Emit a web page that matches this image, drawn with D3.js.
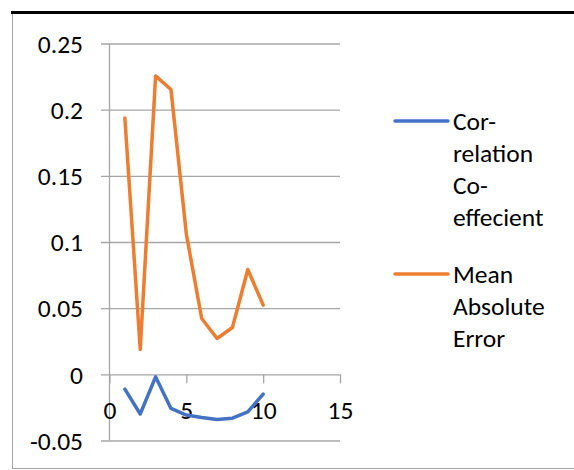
<!DOCTYPE html>
<html><head><meta charset="utf-8">
<script src="https://cdn.jsdelivr.net/npm/d3@7"></script>
<style>
html,body{margin:0;padding:0;background:#fff;}
svg{display:block;}
text{font-family:Carlito,Calibri,Lato,sans-serif;fill:#000;}
</style></head>
<body>
<svg id="chart" width="574" height="470"></svg>
<script>
const xValues = [1,2,3,4,5,6,7,8,9,10];
const correlation = [-0.0112,-0.0300,-0.0019,-0.0258,-0.0308,-0.0326,-0.0341,-0.0331,-0.0283,-0.0150];
const mae = [0.1937,0.0188,0.2255,0.2152,0.1060,0.0422,0.0271,0.0354,0.0792,0.0523];
const xTicks = [0,5,10,15];
const yTicks = [-0.05,0,0.05,0.1,0.15,0.2,0.25];
const yTickLabels = ["-0.05","0","0.05","0.1","0.15","0.2","0.25"];
const seriesNames = [["Cor-","relation","Co-","effecient"],["Mean","Absolute","Error"]];
const colors = ["#4472C4","#ED7D31"];

const svg = d3.select("#chart");
const FS = 25.5;

// outer frame
svg.append("rect").attr("x",12.5).attr("y",13).attr("width",600).attr("height",455.5)
  .attr("fill","none").attr("stroke","#a6a6a6").attr("stroke-width",1);
svg.append("line").attr("x1",11).attr("x2",574).attr("y1",12.5).attr("y2",12.5)
  .attr("stroke","#000").attr("stroke-width",3);

const x = d3.scaleLinear().domain([0,15]).range([109.5,340]);
const y = d3.scaleLinear().domain([-0.05,0.25]).range([440.5,43.5]);

// gridlines (with left tick extension)
const yAxis = d3.axisLeft(y).tickValues(yTicks).tickSize(-(340-101)).tickPadding(0)
  .tickFormat((d,i) => yTickLabels[i]);
const gy = svg.append("g").attr("transform","translate(340,0)").call(yAxis);
gy.select(".domain").remove();
gy.selectAll(".tick line").attr("stroke","#a6a6a6").attr("stroke-width",1.3).attr("x1",-(340-101)).attr("x2",0);
gy.selectAll(".tick text").attr("x",-(340-83)).attr("dy","0.34em").attr("text-anchor","end")
  .style("font-size",FS+"px").attr("fill","#000");

// vertical axis line
svg.append("line").attr("x1",x(0)).attr("x2",x(0)).attr("y1",y(0.25)).attr("y2",y(-0.05))
  .attr("stroke","#a6a6a6").attr("stroke-width",1.3);

// x axis at y=0
const xAxis = d3.axisBottom(x).tickValues(xTicks).tickSize(9).tickPadding(4).tickFormat(d3.format("d"));
const gx = svg.append("g").attr("transform",`translate(0,${y(0)})`).call(xAxis);
gx.select(".domain").remove();
gx.selectAll(".tick line").attr("stroke","#a6a6a6").attr("stroke-width",1.3);
gx.selectAll(".tick text").style("font-size",FS+"px").attr("fill","#000").attr("y",36).attr("dy","0.34em");

// series lines
const line = d3.line().x((d,i)=>x(xValues[i])).y(d=>y(d));
[correlation, mae].forEach((s,k)=>{
  svg.append("path").datum(s).attr("d",line).attr("fill","none")
    .attr("stroke",colors[k]).attr("stroke-width",3.5)
    .attr("stroke-linejoin","round").attr("stroke-linecap","round");
});

// legend
const legendTop = [121, 274];
const lh = 32;
seriesNames.forEach((lines,k)=>{
  svg.append("line").attr("x1",395).attr("x2",448).attr("y1",legendTop[k]).attr("y2",legendTop[k])
    .attr("stroke",colors[k]).attr("stroke-width",3.5).attr("stroke-linecap","round");
  lines.forEach((t,j)=>{
    svg.append("text").attr("x",453).attr("y",legendTop[k]+j*lh).attr("dy","0.34em")
      .style("font-size",FS+"px").text(t);
  });
});
</script>
</body></html>
